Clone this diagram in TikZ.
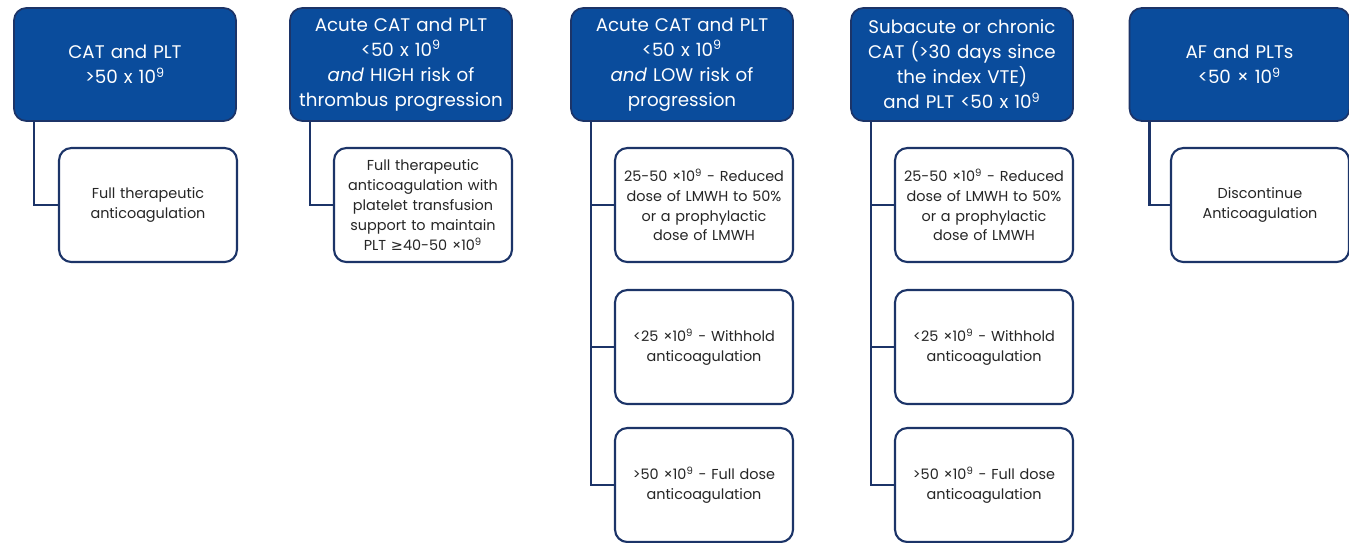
\documentclass[tikz,border=0pt]{standalone}
\usepackage{fontspec}
\setmainfont{Poppins}
\newfontfamily\symfont{DejaVu Sans}
\usepackage{tikz}
\usetikzlibrary{
	positioning,									% 节点的高级摆放
}
\definecolor{headblue}{RGB}{10,76,156}
\definecolor{navyline}{RGB}{28,52,104}

\begin{document}
\begin{tikzpicture}[
		x=0.02cm, y=-0.02cm,
		head/.style={draw=navyline, fill=headblue, line width=1pt, rounded corners=7pt,
			minimum width=4.44cm, minimum height=2.26cm, text width=4.4cm, inner sep=0pt,
			align=center, text=white, font=\fontsize{10.4}{14.2}\selectfont},
		leaf/.style={draw=navyline, fill=white, line width=1.2pt, rounded corners=7pt,
			minimum width=3.56cm, minimum height=2.28cm, text width=3.56cm, inner sep=0pt,
			align=center, text=black!85, font=\fontsize{8.2}{11.3}\selectfont},
		link/.style={draw=navyline, line width=1.5pt},
	]
		\useasboundingbox (0,0) rectangle (1349,542);
		% 标题
		\node [head] (cat)   at (125,64.5)  {CAT and PLT\\>50 x 10\textsuperscript{9}};
		\node [head] (high)  at (401,64.5)  {Acute CAT and PLT\\<50 x 10\textsuperscript{9}\\\textit{and} HIGH risk of\\thrombus progression};
		\node [head] (low)   at (682,64.5)  {Acute CAT and PLT\\<50 x 10\textsuperscript{9}\\\textit{and} LOW risk of\\progression};
		\node [head] (chron) at (962,64.5)  {Subacute or chronic\\CAT (>30 days since\\the index VTE)\\and PLT <50 x 10\textsuperscript{9}};
		\node [head, minimum width=4.34cm] (af) at (1239.5,64.5) {AF and PLTs\\<50 × 10\textsuperscript{9}};
		% 处理
		\node [leaf] (full)    at (148,205)  {Full therapeutic\\anticoagulation};
		\node [leaf] (trans)   at (423,205)  {Full therapeutic\\anticoagulation with\\platelet transfusion\\support to maintain\\PLT {\symfont ≥}40-50 ×10\textsuperscript{9}};
		\node [leaf] (lowred)  at (704,205)  {25-50 ×10\textsuperscript{9} - Reduced\\dose of LMWH to 50\%\\or a prophylactic\\dose of LMWH};
		\node [leaf] (lowhold) at (704,347)  {<25 ×10\textsuperscript{9} - Withhold\\anticoagulation};
		\node [leaf] (lowfull) at (704,485)  {>50 ×10\textsuperscript{9} - Full dose\\anticoagulation};
		\node [leaf] (chrred)  at (984,205)  {25-50 ×10\textsuperscript{9} - Reduced\\dose of LMWH to 50\%\\or a prophylactic\\dose of LMWH};
		\node [leaf] (chrhold) at (984,347)  {<25 ×10\textsuperscript{9} - Withhold\\anticoagulation};
		\node [leaf] (chrfull) at (984,485)  {>50 ×10\textsuperscript{9} - Full dose\\anticoagulation};
		\node [leaf, minimum width=3.48cm] (stop) at (1260,205) {Discontinue\\Anticoagulation};
		% 连线
		\draw [link] ([xshift=0.42cm]cat.south west) |- (full.west);
		\draw [link] ([xshift=0.42cm]high.south west) |- (trans.west);
		\draw [link] ([xshift=0.42cm]low.south west) |- (lowfull.west);
		\draw [link] ([xshift=0.42cm]low.south west) |- (lowred.west);
		\draw [link] ([xshift=0.42cm]low.south west) |- (lowhold.west);
		\draw [link] ([xshift=0.42cm]chron.south west) |- (chrfull.west);
		\draw [link] ([xshift=0.42cm]chron.south west) |- (chrred.west);
		\draw [link] ([xshift=0.42cm]chron.south west) |- (chrhold.west);
		\draw [link] ([xshift=0.42cm]af.south west) |- (stop.west);
	\end{tikzpicture}
\end{document}
